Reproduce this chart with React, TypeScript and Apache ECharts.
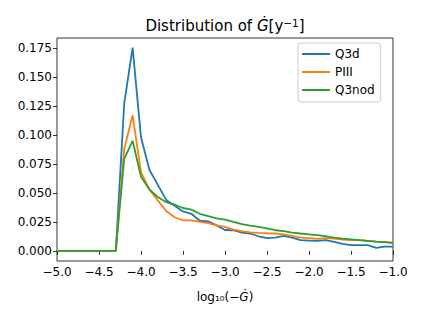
import React, { useEffect, useRef } from "react";
import * as echarts from "echarts";

const xValues = [
  -5.0, -4.9, -4.8, -4.7, -4.6, -4.5, -4.4, -4.3, -4.2, -4.1, -4.0, -3.9, -3.8, -3.7,
  -3.6, -3.5, -3.4, -3.3, -3.2, -3.1, -3.0, -2.9, -2.8, -2.7, -2.6, -2.5, -2.4, -2.3,
  -2.2, -2.1, -2.0, -1.9, -1.8, -1.7, -1.6, -1.5, -1.4, -1.3, -1.2, -1.1, -1.0,
];

const q3d = [
  0, 0, 0, 0, 0, 0, 0, 0, 0.127, 0.1755, 0.098, 0.07, 0.057, 0.044, 0.039, 0.034,
  0.032, 0.026, 0.0255, 0.022, 0.018, 0.0178, 0.0158, 0.015, 0.0126, 0.011, 0.0115,
  0.013, 0.0115, 0.0092, 0.0089, 0.0086, 0.0092, 0.0077, 0.006, 0.0049, 0.0049,
  0.0049, 0.0026, 0.0037, 0.0037,
];

const piii = [
  0, 0, 0, 0, 0, 0, 0, 0, 0.088, 0.117, 0.068, 0.053, 0.0436, 0.0344, 0.029, 0.0264,
  0.0264, 0.025, 0.024, 0.022, 0.0207, 0.0184, 0.017, 0.016, 0.0155, 0.0152, 0.015,
  0.0143, 0.0129, 0.0115, 0.011, 0.0103, 0.011, 0.0106, 0.0097, 0.0092, 0.0092,
  0.0086, 0.008, 0.0077, 0.0072,
];

const q3nod = [
  0, 0, 0, 0, 0, 0, 0, 0, 0.0795, 0.095, 0.064, 0.053, 0.0465, 0.042, 0.04, 0.037,
  0.0356, 0.032, 0.03, 0.028, 0.027, 0.025, 0.023, 0.0218, 0.0207, 0.0195, 0.0178,
  0.017, 0.0158, 0.015, 0.0143, 0.0135, 0.0126, 0.0115, 0.0106, 0.01, 0.0092, 0.0086,
  0.008, 0.0075, 0.0066,
];

const yTicks = [0, 0.025, 0.05, 0.075, 0.1, 0.125, 0.15, 0.175];
const seriesNames = ["Q3d", "PIII", "Q3nod"];
const colors = ["#1f77b4", "#ff7f0e", "#2ca02c"];

const FONT = "DejaVu Sans";

export default function App() {
  const ref = useRef<HTMLDivElement>(null);

  useEffect(() => {
    if (!ref.current) return;
    const chart = echarts.init(ref.current, undefined, { renderer: "svg" });
    const datasets = [q3d, piii, q3nod];
    const option = {
      animation: false,
      backgroundColor: "#ffffff",
      grid: {
        left: 57,
        right: 30,
        top: 38,
        bottom: 56,
        show: true,
        borderColor: "#000000",
        borderWidth: 0.8,
        backgroundColor: "transparent",
      },
      legend: {
        left: 298,
        top: 43,
        orient: "vertical",
        data: seriesNames,
        icon: "rect",
        itemWidth: 28,
        itemHeight: 2,
        itemGap: 4,
        padding: [4, 6, 5, 4],
        borderColor: "#cccccc",
        borderWidth: 1,
        borderRadius: 3,
        backgroundColor: "rgba(255,255,255,0.8)",
        textStyle: { fontFamily: FONT, fontSize: 12, color: "#000", lineHeight: 14 },
      },
      xAxis: {
        type: "value",
        min: -5,
        max: -1,
        interval: 0.5,
        name: "log\u2081\u2080(\u2212{i|\u0120})",
        nameLocation: "middle",
        nameGap: 30,
        nameTextStyle: {
          fontFamily: FONT,
          fontSize: 12,
          color: "#000",
          rich: {
            i: { fontFamily: FONT, fontSize: 12, fontStyle: "italic", color: "#000" },
          },
        },
        axisLine: { show: false },
        axisTick: { show: true, inside: false, length: 4, lineStyle: { color: "#000", width: 0.8 } },
        axisLabel: {
          fontFamily: FONT,
          fontSize: 12,
          color: "#000",
          margin: 5,
          formatter: (v: number) => v.toFixed(1).replace("-", "\u2212"),
        },
        splitLine: { show: false },
      },
      yAxis: {
        type: "value",
        min: -0.00875,
        max: 0.18375,
        axisLine: { show: false },
        axisTick: {
          show: true,
          inside: false,
          length: 4,
          customValues: yTicks,
          lineStyle: { color: "#000", width: 0.8 },
        },
        axisLabel: {
          fontFamily: FONT,
          fontSize: 12,
          color: "#000",
          margin: 5,
          customValues: yTicks,
          formatter: (v: number) => v.toFixed(3),
        },
        splitLine: { show: false },
      },
      graphic: [
        {
          type: "text",
          x: 225,
          y: 26,
          style: {
            text: "{a|Distribution of }{i|\u0120}{a|[y}{s|\u22121}{a|]}",
            align: "center",
            verticalAlign: "middle",
            fill: "#000",
            rich: {
              a: { fontFamily: FONT, fontSize: 15, fill: "#000", lineHeight: 18 },
              i: { fontFamily: FONT, fontSize: 15, fontStyle: "italic", fill: "#000", lineHeight: 18 },
              s: { fontFamily: FONT, fontSize: 10.5, fill: "#000", verticalAlign: "top", lineHeight: 12 },
            },
          },
        },
      ],
      series: datasets.map((d, i) => ({
        name: seriesNames[i],
        type: "line",
        data: xValues.map((x, j) => [x, d[j]]),
        showSymbol: false,
        symbol: "none",
        lineStyle: { color: colors[i], width: 1.8 },
        itemStyle: { color: colors[i] },
        z: 2 + i,
      })),
    };
    chart.setOption(option);
    return () => chart.dispose();
  }, []);

  return (
    <div
      ref={ref}
      style={{ position: "fixed", left: 0, top: 0, width: 423, height: 317, background: "#fff" }}
    />
  );
}
